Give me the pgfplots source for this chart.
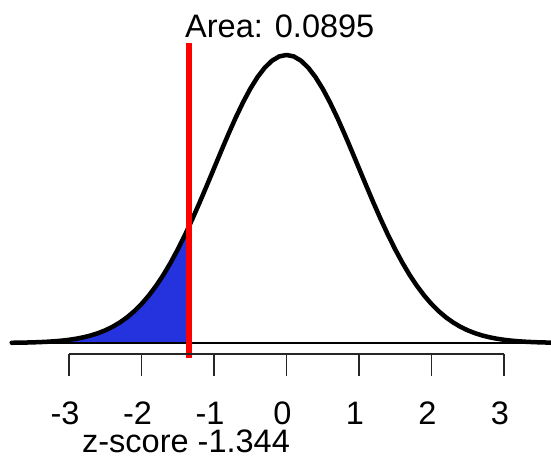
\documentclass[border=0pt]{standalone}
\usepackage{pgfplots}
\pgfplotsset{compat=1.18}
\usepackage{fontspec}
\setmainfont{Liberation Sans}
\definecolor{areablue}{RGB}{36,51,222}
\newcommand{\bigf}{\fontsize{32.5}{39}\selectfont}
\begin{document}
\begin{tikzpicture}[x=1pt,y=1pt]
\useasboundingbox (0,0) rectangle (551,457);
\begin{axis}[at={(0,0)}, anchor=south west, scale only axis,
  width=551pt, height=457pt,
  xmin=-3.9517, xmax=3.6483, ymin=-0.15792, ymax=0.47514,
  hide axis, clip=false]
% shaded tail
\addplot[fill=areablue, draw=none] coordinates {
(-3.8,0) (-3.8,0.000292) (-3.7,0.000425) (-3.6,0.000612) (-3.5,0.000873)
(-3.4,0.001232) (-3.3,0.001723) (-3.2,0.002384) (-3.1,0.003267) (-3.0,0.004432)
(-2.9,0.005953) (-2.8,0.007915) (-2.7,0.010421) (-2.6,0.013583) (-2.5,0.017528)
(-2.4,0.022395) (-2.3,0.028327) (-2.2,0.035475) (-2.1,0.043984) (-2.0,0.053991)
(-1.9,0.065616) (-1.8,0.078950) (-1.7,0.094049) (-1.6,0.110921) (-1.5,0.129518)
(-1.4,0.149727) (-1.344,0.16168) (-1.344,0)} -- cycle;
% baseline
\addplot[black, line width=1.5pt] coordinates {(-3.79,0) (3.6483,0)};
% density curve
\addplot[black, line width=4.5pt, line join=round, line cap=round] coordinates {
(-3.79,0.000302) (-3.7,0.000425) (-3.6,0.000612) (-3.5,0.000873)
(-3.4,0.001232) (-3.3,0.001723) (-3.2,0.002384) (-3.1,0.003267) (-3.0,0.004432)
(-2.9,0.005953) (-2.8,0.007915) (-2.7,0.010421) (-2.6,0.013583) (-2.5,0.017528)
(-2.4,0.022395) (-2.3,0.028327) (-2.2,0.035475) (-2.1,0.043984) (-2.0,0.053991)
(-1.9,0.065616) (-1.8,0.078950) (-1.7,0.094049) (-1.6,0.110921) (-1.5,0.129518)
(-1.4,0.149727) (-1.3,0.171369) (-1.2,0.194186) (-1.1,0.217852) (-1.0,0.241971)
(-0.9,0.266085) (-0.8,0.289692) (-0.7,0.312254) (-0.6,0.333225) (-0.5,0.352065)
(-0.4,0.368270) (-0.3,0.381388) (-0.2,0.391043) (-0.1,0.396953) (0.0,0.398942)
(0.1,0.396953) (0.2,0.391043) (0.3,0.381388) (0.4,0.368270) (0.5,0.352065)
(0.6,0.333225) (0.7,0.312254) (0.8,0.289692) (0.9,0.266085) (1.0,0.241971)
(1.1,0.217852) (1.2,0.194186) (1.3,0.171369) (1.4,0.149727) (1.5,0.129518)
(1.6,0.110921) (1.7,0.094049) (1.8,0.078950) (1.9,0.065616) (2.0,0.053991)
(2.1,0.043984) (2.2,0.035475) (2.3,0.028327) (2.4,0.022395) (2.5,0.017528)
(2.6,0.013583) (2.7,0.010421) (2.8,0.007915) (2.9,0.005953) (3.0,0.004432)
(3.1,0.003267) (3.2,0.002384) (3.3,0.001723) (3.4,0.001232) (3.5,0.000873)
(3.6,0.000612) (3.7,0.000425)};
% z-score line
\addplot[red, line width=5.5pt] coordinates {(-1.344,-0.0208) (-1.344,0.4156)};
\node[anchor=base west, font=\bigf, inner sep=0pt] at (axis cs:-1.400,0.4225) {Area: 0.0895};
\node[anchor=base, font=\bigf, inner sep=0pt] at (axis cs:-1.386,-0.1510) {z-score -1.344};
\end{axis}
\begin{axis}[at={(69pt,103pt)}, anchor=south west, scale only axis,
  width=435pt, height=10pt, xmin=-3, xmax=3, ymin=0, ymax=1,
  axis x line*=bottom, hide y axis,
  axis line style={-, line width=1.8pt, black!85},
  xtick={-3,-2,-1,0,1,2,3},
  xticklabels={-3,-2,-1,0,1,2,3},
  tick align=outside, major tick length=22pt,
  every tick/.style={line width=1.8pt, black!85},
  xticklabel style={font=\bigf, anchor=base, inner sep=0pt, yshift=-49pt, xshift=-4pt}]
\end{axis}
\end{tikzpicture}
\end{document}
